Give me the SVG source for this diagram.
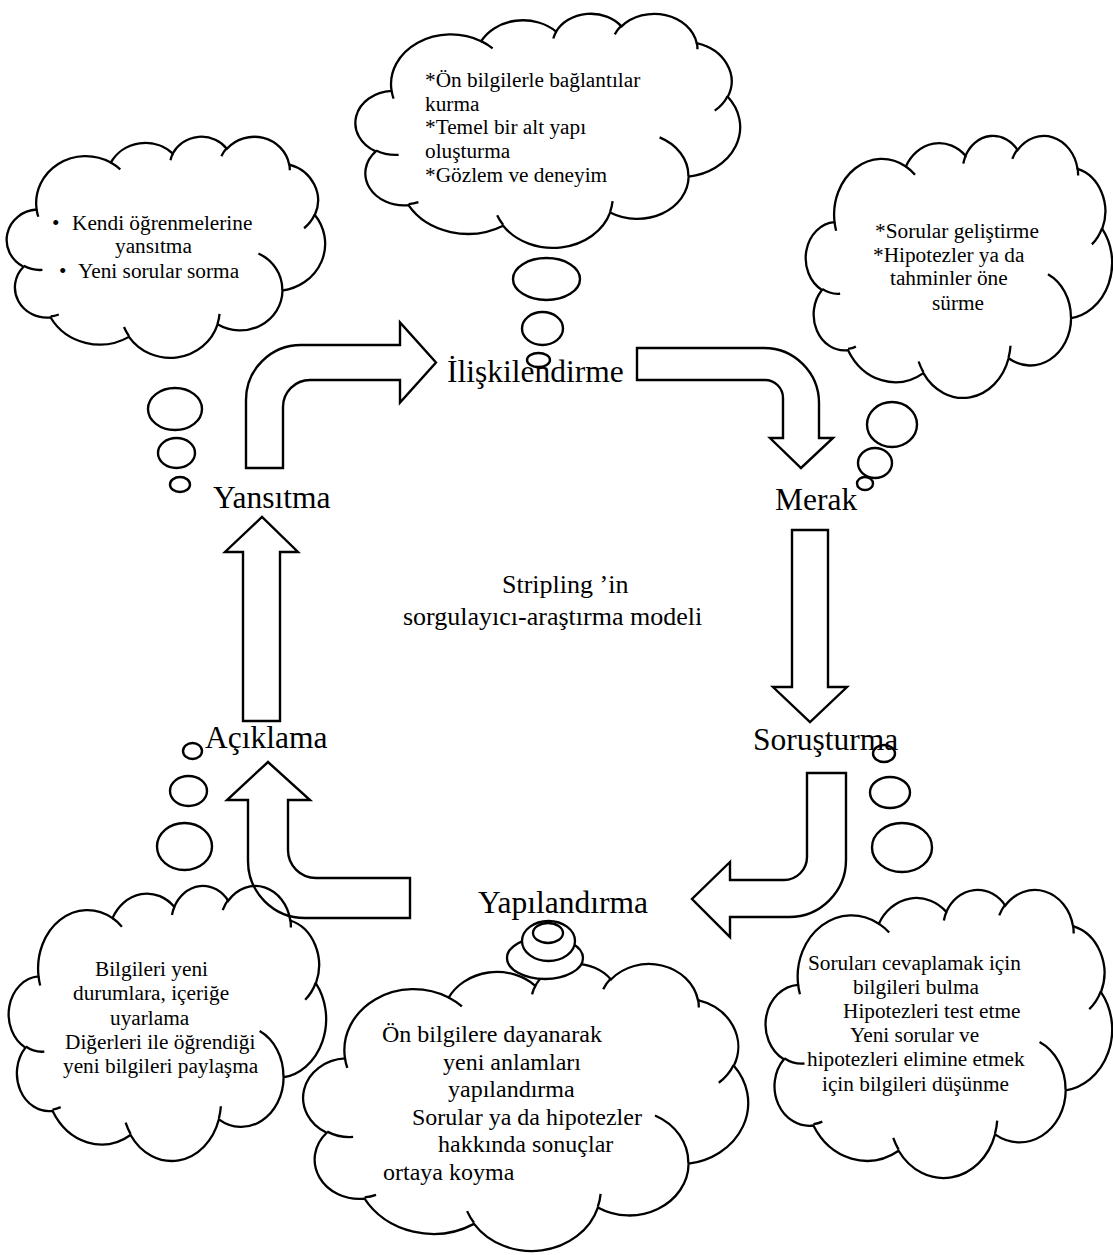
<svg xmlns="http://www.w3.org/2000/svg" width="1113" height="1255" viewBox="0 0 1113 1255">
  <style>
    .ln { fill: none; stroke: #000; stroke-width: 2.4; stroke-linejoin: miter; }
    .cl { fill: none; stroke: #000; stroke-width: 2.3; vector-effect: non-scaling-stroke; }
    .wf { fill: #fff; stroke: #000; stroke-width: 2.3; }
    .lbl { font-family: "Liberation Serif", "Times New Roman", serif; font-size: 31.5px; fill: #000; }
    .ctr { font-family: "Liberation Serif", "Times New Roman", serif; font-size: 26px; fill: #000; }
    .tx { font-family: "Liberation Serif", "Times New Roman", serif; font-size: 21.3px; fill: #000; }
    .tx24 { font-family: "Liberation Serif", "Times New Roman", serif; font-size: 24px; fill: #000; }
  </style>
  <defs>
    <!-- cloud outline in a 100x100 box, with the short interior lobe strokes -->
    <symbol id="cloud" viewBox="0 0 100 100" preserveAspectRatio="none" overflow="visible">
      <path class="cl" d="M 9.028 33.264 A 15.632 21.273 0 0 1 32.420 12.043 A 12.345 16.822 0 0 1 51.983 7.943 A 10.104 13.762 0 0 1 69.061 5.743 A 11.243 15.266 0 0 1 88.703 12.907 A 12.345 16.836 0 0 1 96.805 35.786 A 15.683 21.343 0 0 1 86.586 69.912 A 13.391 18.211 0 0 1 66.104 85.213 A 15.630 21.331 0 0 1 38.155 90.893 A 17.870 24.405 0 0 1 13.446 82.116 A 10.093 13.699 0 0 1 4.901 59.148 A 10.058 13.762 0 0 1 9.028 33.264 Z"/>
      <path class="cl" d="M 10.863 60.595 A 10.058 13.762 0 0 1 5.000 58.750 M 16.037 80.785 A 10.093 13.699 0 0 1 13.471 81.668 M 38.144 90.486 A 15.630 21.331 0 0 1 36.594 86.449 M 66.729 80.442 A 15.630 21.331 0 0 1 66.112 84.861 M 79.002 53.134 A 13.391 18.211 0 0 1 86.530 69.653 M 96.755 35.542 A 12.345 16.836 0 0 1 93.403 41.736 M 88.713 12.560 A 11.243 15.266 0 0 1 88.890 15.485 M 67.310 9.148 A 11.243 15.266 0 0 1 69.028 5.416 M 51.252 10.926 A 10.104 13.762 0 0 1 52.084 7.709 M 32.407 12.019 A 15.632 21.273 0 0 1 35.416 15.139 M 9.553 36.549 A 15.632 21.273 0 0 1 9.028 33.264"/>
    </symbol>
  </defs>

  <rect width="1113" height="1255" fill="#fff"/>

  <!-- block arrows between stages -->
  <g id="connectors">
    <path class="ln" d="M 246 468 L 246 400 A 55 55 0 0 1 301 345 L 400 345 L 400 322.5 L 436 362.5 L 400 402.5 L 400 380 L 310 380 A 27 27 0 0 0 283 407 L 283 468 Z"/>
    <path class="ln" d="M 637 348 L 764 348 A 55 55 0 0 1 819 403 L 819 438 L 833 438 L 801 468 L 770 438 L 783 438 L 783 398 A 18 18 0 0 0 765 380 L 637 380 Z"/>
    <path class="ln" d="M 792 530 L 828 530 L 828 687 L 847 687 L 810 722 L 773 687 L 792 687 Z"/>
    <path class="ln" d="M 807 773 L 846 773 L 846 860 A 57 57 0 0 1 789 917 L 730 917 L 730 937 L 692 899 L 730 862 L 730 880 L 784 880 A 23 23 0 0 0 807 857 Z"/>
    <path class="ln" d="M 410 878 L 410 918 L 305 918 A 57 57 0 0 1 248 861 L 248 800 L 227 800 L 268 762 L 310 800 L 288 800 L 288 850 A 28 28 0 0 0 316 878 Z"/>
    <path class="ln" d="M 243 721 L 243 552 L 225 552 L 262 517 L 298 552 L 280 552 L 280 721 Z"/>
  </g>

  <!-- stage labels -->
  <g id="stage-iliskilendirme"><text class="lbl" x="447" y="382">İlişkilendirme</text></g>
  <g id="stage-merak"><text class="lbl" x="775" y="510">Merak</text></g>
  <g id="stage-sorusturma"><text class="lbl" x="753" y="750">Soruşturma</text></g>
  <g id="stage-yapilandirma"><text class="lbl" x="478" y="913">Yapılandırma</text></g>
  <g id="stage-aciklama"><text class="lbl" x="205" y="748">Açıklama</text></g>
  <g id="stage-yansitma"><text class="lbl" x="213" y="508">Yansıtma</text></g>

  <g id="title">
    <text class="ctr" x="502" y="593">Stripling ’in</text>
    <text class="ctr" x="403" y="625">sorgulayıcı-araştırma modeli</text>
  </g>

  <!-- thought clouds -->
  <g id="cloud-iliskilendirme">
    <use href="#cloud" x="357" y="13" width="383" height="234"/>
    <ellipse class="ln" cx="546.5" cy="279" rx="33.5" ry="21"/>
    <ellipse class="ln" cx="542.5" cy="328.5" rx="20.5" ry="16.5"/>
    <ellipse class="ln" cx="538.5" cy="360" rx="11.5" ry="7"/>
    <text class="tx" x="425" y="87">*Ön bilgilerle bağlantılar</text>
    <text class="tx" x="425" y="110.5">kurma</text>
    <text class="tx" x="425" y="134">*Temel bir alt yapı</text>
    <text class="tx" x="425" y="158">oluşturma</text>
    <text class="tx" x="425" y="182">*Gözlem ve deneyim</text>
  </g>

  <g id="cloud-yansitma">
    <use href="#cloud" x="8" y="136" width="317" height="221"/>
    <ellipse class="ln" cx="175" cy="409" rx="27" ry="21"/>
    <ellipse class="ln" cx="176.5" cy="453" rx="18.5" ry="15"/>
    <ellipse class="ln" cx="180" cy="484.5" rx="10" ry="7.5"/>
    <text class="tx" x="52" y="230">•</text>
    <text class="tx" x="72" y="230">Kendi öğrenmelerine</text>
    <text class="tx" x="115" y="253">yansıtma</text>
    <text class="tx" x="59" y="278">•</text>
    <text class="tx" x="78" y="278">Yeni sorular sorma</text>
  </g>

  <g id="cloud-merak">
    <use href="#cloud" x="807" y="135" width="305" height="262"/>
    <ellipse class="ln" cx="892" cy="424.5" rx="25" ry="22.5"/>
    <ellipse class="ln" cx="875" cy="463" rx="17" ry="15"/>
    <ellipse class="ln" cx="865" cy="483.5" rx="8" ry="6.5"/>
    <text class="tx" x="875" y="238">*Sorular geliştirme</text>
    <text class="tx" x="873" y="262">*Hipotezler ya da</text>
    <text class="tx" x="890" y="285">tahminler öne</text>
    <text class="tx" x="932" y="310">sürme</text>
  </g>

  <g id="cloud-aciklama">
    <use href="#cloud" x="10" y="885" width="316" height="275"/>
    <ellipse class="ln" cx="192.5" cy="751" rx="9.5" ry="8"/>
    <ellipse class="ln" cx="188.5" cy="791" rx="18.5" ry="15"/>
    <ellipse class="ln" cx="184.5" cy="846.5" rx="27.5" ry="23.5"/>
    <text class="tx" x="95" y="976">Bilgileri yeni</text>
    <text class="tx" x="73" y="1000">durumlara, içeriğe</text>
    <text class="tx" x="110" y="1024.5">uyarlama</text>
    <text class="tx" x="65" y="1049">Diğerleri ile öğrendiği</text>
    <text class="tx" x="63" y="1073">yeni bilgileri paylaşma</text>
  </g>

  <g id="cloud-yapilandirma">
    <use href="#cloud" x="305" y="963" width="443" height="287"/>
    <ellipse class="wf" cx="545" cy="958" rx="38" ry="21"/>
    <ellipse class="wf" cx="548.5" cy="941" rx="26.5" ry="20"/>
    <ellipse class="wf" cx="548" cy="933" rx="15" ry="10"/>
    <text class="tx24" x="382" y="1042">Ön bilgilere dayanarak</text>
    <text class="tx24" x="443" y="1070">yeni anlamları</text>
    <text class="tx24" x="448" y="1097">yapılandırma</text>
    <text class="tx24" x="412" y="1125">Sorular ya da hipotezler</text>
    <text class="tx24" x="438" y="1152">hakkında sonuçlar</text>
    <text class="tx24" x="383" y="1180">ortaya koyma</text>
  </g>

  <g id="cloud-sorusturma">
    <use href="#cloud" x="767" y="889" width="345" height="288"/>
    <ellipse class="ln" cx="884" cy="753.5" rx="11" ry="8.5"/>
    <ellipse class="ln" cx="890" cy="792.5" rx="20" ry="15.5"/>
    <ellipse class="ln" cx="902" cy="847.5" rx="30" ry="24.5"/>
    <text class="tx" x="808" y="970">Soruları cevaplamak için</text>
    <text class="tx" x="853" y="994">bilgileri bulma</text>
    <text class="tx" x="843" y="1018">Hipotezleri test etme</text>
    <text class="tx" x="850" y="1042">Yeni sorular ve</text>
    <text class="tx" x="807" y="1066">hipotezleri elimine etmek</text>
    <text class="tx" x="822" y="1091">için bilgileri düşünme</text>
  </g>
</svg>
